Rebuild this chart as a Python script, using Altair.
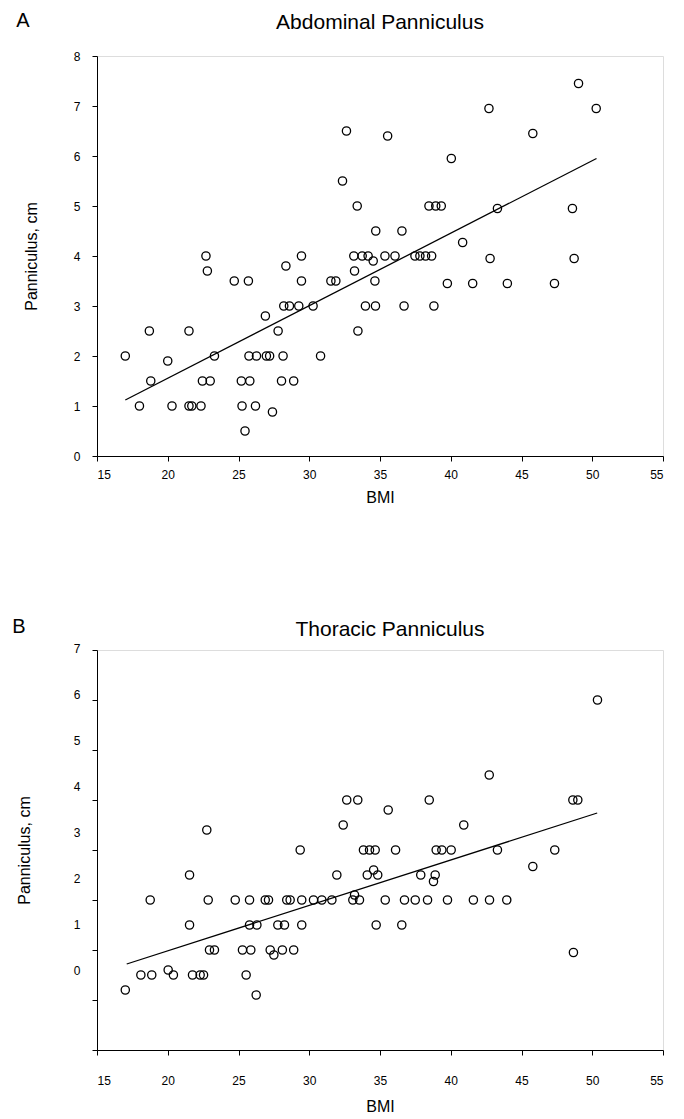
import altair as alt
import pandas as pd

FONT = "Liberation Sans"

# ---- Panel A: Abdominal panniculus ----
a_bmi = [17.0, 18.0, 18.7, 18.8, 20.0, 20.3, 21.5, 21.5, 21.7, 22.35, 22.45, 22.7, 22.8, 23.0, 23.3,
         24.7, 25.2, 25.25, 25.46, 25.7, 25.74, 25.8, 26.2, 26.27, 26.9, 26.97, 27.2, 27.4, 27.8, 28.04,
         28.15, 28.2, 28.35, 28.6, 28.9, 29.26, 29.45, 29.45, 30.27, 30.8, 31.53, 31.88, 32.35, 32.63,
         33.15, 33.2, 33.39, 33.44, 33.74, 33.97, 34.16, 34.52, 34.64, 34.68, 34.7, 35.35, 35.54, 36.06,
         36.55, 36.7, 37.47, 37.82, 38.22, 38.46, 38.65, 38.81, 38.94, 39.33, 39.76, 40.04, 40.84, 41.55,
         42.7, 42.78, 43.3, 44.0, 45.8, 47.33, 48.6, 48.72, 49.03, 50.28]
a_pan = [2.0, 1.0, 2.5, 1.5, 1.9, 1.0, 2.5, 1.0, 1.0, 1.0, 1.5, 4.0, 3.7, 1.5, 2.0,
         3.5, 1.5, 1.0, 0.5, 3.5, 2.0, 1.5, 1.0, 2.0, 2.8, 2.0, 2.0, 0.88, 2.5, 1.5,
         2.0, 3.0, 3.8, 3.0, 1.5, 3.0, 4.0, 3.5, 3.0, 2.0, 3.5, 3.5, 5.5, 6.5,
         4.0, 3.7, 5.0, 2.5, 4.0, 3.0, 4.0, 3.9, 3.5, 3.0, 4.5, 4.0, 6.4, 4.0,
         4.5, 3.0, 4.0, 4.0, 4.0, 5.0, 4.0, 3.0, 5.0, 5.0, 3.45, 5.95, 4.27, 3.45,
         6.95, 3.95, 4.95, 3.45, 6.45, 3.45, 4.95, 3.95, 7.45, 6.95]
a_fit_bmi = [17.0, 50.3]
a_fit_pan = [1.12, 5.95]

# ---- Panel B: Thoracic panniculus ----
b_bmi = [17.0, 18.1, 18.76, 18.87, 20.03, 20.4, 21.54, 21.54, 21.75, 22.29, 22.53, 22.76, 22.86, 22.95,
         23.3, 24.77, 25.28, 25.54, 25.78, 25.78, 25.87, 26.25, 26.3, 26.89, 27.12, 27.24, 27.5, 27.78,
         28.1, 28.25, 28.41, 28.65, 28.9, 29.36, 29.47, 29.47, 30.3, 30.89, 31.6, 31.95, 32.4, 32.65,
         33.08, 33.2, 33.43, 33.55, 33.83, 34.1, 34.26, 34.55, 34.66, 34.73, 34.84, 35.37, 35.58, 36.1,
         36.54, 36.73, 37.49, 37.88, 38.36, 38.48, 38.78, 38.9, 38.97, 39.37, 39.77, 40.03, 40.92, 41.6,
         42.72, 42.74, 43.3, 43.96, 45.8, 47.35, 48.63, 48.67, 48.98, 50.37]
b_pan = [0.2, 0.5, 2.0, 0.5, 0.6, 0.5, 2.5, 1.5, 0.5, 0.5, 0.5, 3.4, 2.0, 1.0,
         1.0, 2.0, 1.0, 0.5, 2.0, 1.5, 1.0, 0.1, 1.5, 2.0, 2.0, 1.0, 0.9, 1.5,
         1.0, 1.5, 2.0, 2.0, 1.0, 3.0, 2.0, 1.5, 2.0, 2.0, 2.0, 2.5, 3.5, 4.0,
         2.0, 2.1, 4.0, 2.0, 3.0, 2.5, 3.0, 2.6, 3.0, 1.5, 2.5, 2.0, 3.8, 3.0,
         1.5, 2.0, 2.0, 2.5, 2.0, 4.0, 2.37, 2.5, 3.0, 3.0, 2.0, 3.0, 3.5, 2.0,
         4.5, 2.0, 3.0, 2.0, 2.67, 3.0, 4.0, 0.95, 4.0, 6.0]
b_fit_bmi = [17.1, 50.35]
b_fit_pan = [0.72, 3.74]

x_ticks = [15, 20, 25, 30, 35, 40, 45, 50, 55]
a_y_ticks = [0, 1, 2, 3, 4, 5, 6, 7, 8]
b_y_ticks = [-1, 0, 1, 2, 3, 4, 5, 6, 7]

W, H = 566, 400


def panel(bmi, pan, fit_bmi, fit_pan, ydom, yticks, title, letter,
          x_label_pad, x_title_pad, y_label_pad, y_title_pad,
          title_dx, title_y, letter_x, letter_y, y_label_offset=None):
    pts = pd.DataFrame({"bmi": bmi, "pan": pan})
    fit = pd.DataFrame({"bmi": fit_bmi, "pan": fit_pan})

    x_enc = alt.X(
        "bmi:Q",
        scale=alt.Scale(domain=[15, 55], nice=False, zero=False),
        axis=alt.Axis(values=x_ticks, title="BMI", grid=False, tickSize=5,
                      labelPadding=x_label_pad, titlePadding=x_title_pad,
                      domainColor="black", tickColor="black", labelColor="black",
                      titleColor="black", labelFont=FONT, labelFontSize=12,
                      titleFont=FONT, titleFontSize=16, titleFontWeight="normal"),
    )
    y_axis_kwargs = dict(values=yticks, title="Panniculus, cm", grid=False, tickSize=5,
                         labelPadding=y_label_pad, titlePadding=y_title_pad,
                         domainColor="black", tickColor="black", labelColor="black",
                         titleColor="black", labelFont=FONT, labelFontSize=12,
                         titleFont=FONT, titleFontSize=16, titleFontWeight="normal",
                         labelExpr="datum.value < 0 ? '' : datum.label")
    if y_label_offset is not None:
        y_axis_kwargs["labelOffset"] = y_label_offset
    y_enc = alt.Y(
        "pan:Q",
        scale=alt.Scale(domain=ydom, nice=False, zero=False),
        axis=alt.Axis(**y_axis_kwargs),
    )

    points = alt.Chart(pts).mark_point(
        shape="circle", filled=False, color="black", size=68, strokeWidth=1.3, opacity=1
    ).encode(x=x_enc, y=y_enc)

    line = alt.Chart(fit).mark_line(color="black", strokeWidth=1.3).encode(x="bmi:Q", y="pan:Q")

    ttl = alt.Chart(pd.DataFrame({"t": [title]})).mark_text(
        font=FONT, fontSize=21, color="black", align="center", baseline="alphabetic"
    ).encode(x=alt.value(W / 2 + title_dx), y=alt.value(title_y), text="t:N")

    let = alt.Chart(pd.DataFrame({"t": [letter]})).mark_text(
        font=FONT, fontSize=20, color="black", align="center", baseline="alphabetic"
    ).encode(x=alt.value(letter_x), y=alt.value(letter_y), text="t:N")

    return alt.layer(points, line, ttl, let).properties(width=W, height=H)


# label positions in panel B are compressed relative to the tick marks
b_offset = {
    "condition": [
        {"test": "datum.value == %d" % v, "value": -30 + 4 * v} for v in range(0, 8)
    ],
    "value": 0,
}

pa = panel(a_bmi, a_pan, a_fit_bmi, a_fit_pan, [0, 8], a_y_ticks,
           "Abdominal Panniculus", "A",
           x_label_pad=8, x_title_pad=9, y_label_pad=12, y_title_pad=34,
           title_dx=0, title_y=-27, letter_x=-74, letter_y=-29)
pb = panel(b_bmi, b_pan, b_fit_bmi, b_fit_pan, [-1, 7], b_y_ticks,
           "Thoracic Panniculus", "B",
           x_label_pad=20, x_title_pad=12, y_label_pad=12, y_title_pad=41,
           title_dx=10, title_y=-14, letter_x=-78, letter_y=-17,
           y_label_offset=b_offset)

chart = alt.vconcat(pa, pb, spacing=110).properties(
    padding={"left": 3, "top": 2, "right": 5, "bottom": 5}
).configure_view(stroke="black", strokeWidth=1).configure(background="white")

chart.save("out.html", embed_options={"renderer": "svg", "actions": False})
